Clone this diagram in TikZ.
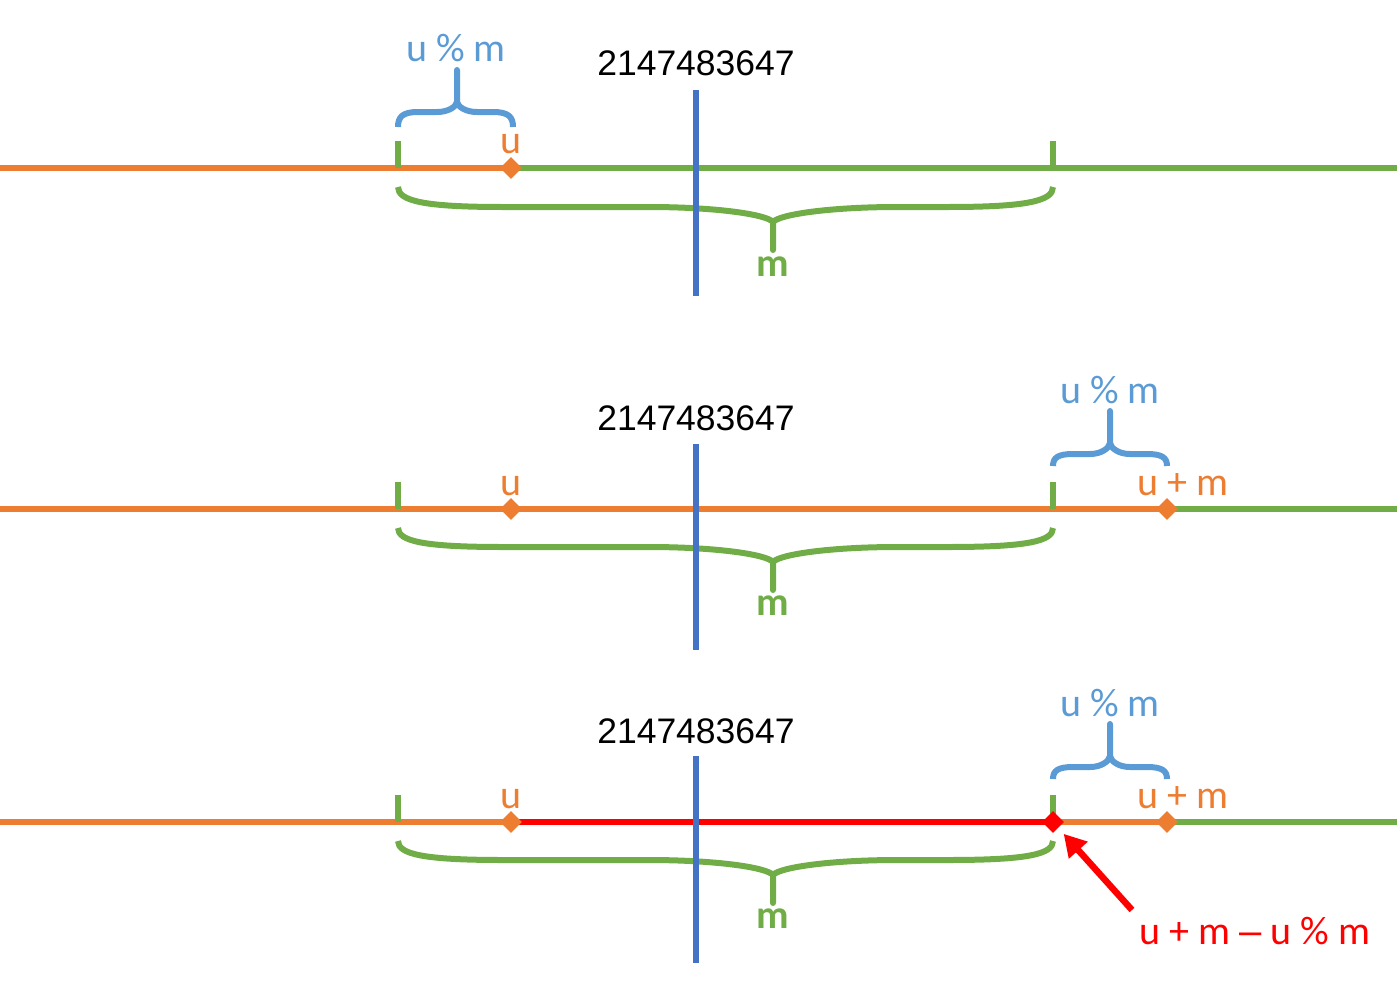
\documentclass[tikz,border=0pt]{standalone}
\usepackage{fontspec}
\setmainfont{Carlito}
\newfontfamily\arialfont{Liberation Sans}
\usetikzlibrary{shapes.geometric,arrows.meta}

\definecolor{lineorange}{HTML}{ED7D31}
\definecolor{linegreen}{HTML}{70AD47}
\definecolor{lineblue}{HTML}{4472C4}
\definecolor{bracelblue}{HTML}{5B9BD5}
\definecolor{linered}{HTML}{FF0000}

% brace: x left, x tip, x right, y ends, y straight part, y tip, y stem end,
% curve width at the ends, curve width at the tip
\newcommand{\brc}[9]{%
  \draw ({#1},{#4}) .. controls ({#1},{#4+0.7*(#5-#4)}) and ({#1+0.25*#8},{#5}) .. ({#1+#8},{#5})
    -- ({#2-#9},{#5}) .. controls ({#2-0.45*#9},{#5}) and ({#2-0.05*#9},{#5+0.5*(#6-#5)}) .. ({#2},{#6})
    -- ({#2},{#7}) -- ({#2},{#6})
    .. controls ({#2+0.05*#9},{#5+0.5*(#6-#5)}) and ({#2+0.45*#9},{#5}) .. ({#2+#9},{#5})
    -- ({#3-#8},{#5}) .. controls ({#3-0.25*#8},{#5}) and ({#3},{#4+0.7*(#5-#4)}) .. ({#3},{#4});}

\tikzset{
  numline/.style={line width=6.5pt},
  tickline/.style={line width=6.5pt, linegreen},
  bracepath/.style={line width=6pt, line join=round},
  ptmark/.style={diamond, fill=#1, minimum size=22pt, inner sep=0pt},
  lbl/.style={font=\fontsize{40}{48}\selectfont, anchor=base, inner sep=0pt},
  numlbl/.style={font=\arialfont\fontsize{35.5}{42}\selectfont, anchor=base, inner sep=0pt},
  limit/.style={line width=6.5pt, lineblue}
}

\begin{document}
\begin{tikzpicture}[x=1pt, y=-1pt]

    % Fix the picture size
    \useasboundingbox (0,0) rectangle (1397,990);

    % ---------- first number line ----------
    \coordinate (a0) at (0,168);
    \coordinate (au) at (511,168);
    \coordinate (a1) at (1397,168);
    \draw[numline, lineorange] (a0) -- (au);
    \draw[numline, linegreen] (au) -- (a1);

    % Ticks at both ends of the interval
    \draw[tickline] (398,141) -- (398,168);
    \draw[tickline] (1053,141) -- (1053,168);

    % Braces
    \begin{scope}[bracepath, bracelblue]
      \brc{398}{457}{513}{127}{112}{102}{70}{20}{20}
    \end{scope}
    \begin{scope}[bracepath, linegreen]
      \brc{398}{773}{1053}{187}{207}{222}{250}{105}{125}
    \end{scope}

    % Point u
    \node[ptmark=lineorange] (ua) at (au) {};

    % Limit line
    \draw[limit] (696,90) -- (696,296);

    % Labels
    \node[numlbl] (maxa) at (696,76) {2147483647};
    \node[lbl, bracelblue] (moda) at (456,62) {u \% m};
    \node[lbl, lineorange] (lbua) at (511,153) {u};
    \node[lbl, linegreen, font=\fontsize{40}{48}\selectfont\bfseries] (ma) at (773,276) {m};

    % ---------- second number line ----------
    \coordinate (b0) at (0,509);
    \coordinate (bu) at (511,509);
    \coordinate (bum) at (1167,509);
    \coordinate (b1) at (1397,509);
    \draw[numline, lineorange] (b0) -- (bum);
    \draw[numline, linegreen] (bum) -- (b1);

    % Ticks at both ends of the interval
    \draw[tickline] (398,482) -- (398,509);
    \draw[tickline] (1053,482) -- (1053,509);

    % Braces
    \begin{scope}[bracepath, bracelblue]
      \brc{1053}{1110}{1167}{466}{454}{443}{411}{20}{20}
    \end{scope}
    \begin{scope}[bracepath, linegreen]
      \brc{398}{773}{1053}{528}{547}{562}{590}{105}{125}
    \end{scope}

    % Points u and u + m
    \node[ptmark=lineorange] (ub) at (bu) {};
    \node[ptmark=lineorange] (umb) at (bum) {};

    % Limit line
    \draw[limit] (696,444) -- (696,650);

    % Labels
    \node[numlbl] (maxb) at (696,430) {2147483647};
    \node[lbl, bracelblue] (modb) at (1110,403) {u \% m};
    \node[lbl, lineorange] (lbub) at (511,495) {u};
    \node[lbl, lineorange] (lbumb) at (1183,495) {u + m};
    \node[lbl, linegreen, font=\fontsize{40}{48}\selectfont\bfseries] (mb) at (773,615) {m};

    % ---------- third number line ----------
    \coordinate (c0) at (0,822);
    \coordinate (cu) at (511,822);
    \coordinate (cr) at (1053,822);
    \coordinate (cum) at (1167,822);
    \coordinate (c1) at (1397,822);
    \draw[numline, lineorange] (c0) -- (cu);
    \draw[numline, linered] (cu) -- (cr);
    \draw[numline, lineorange] (cr) -- (cum);
    \draw[numline, linegreen] (cum) -- (c1);

    % Ticks at both ends of the interval
    \draw[tickline] (398,795) -- (398,822);
    \draw[tickline] (1053,795) -- (1053,818);

    % Braces
    \begin{scope}[bracepath, bracelblue]
      \brc{1053}{1110}{1167}{779}{767}{756}{724}{20}{20}
    \end{scope}
    \begin{scope}[bracepath, linegreen]
      \brc{398}{773}{1053}{841}{860}{875}{903}{105}{125}
    \end{scope}

    % Points u, u + m - u % m and u + m
    \node[ptmark=lineorange] (uc) at (cu) {};
    \node[ptmark=linered] (rc) at (cr) {};
    \node[ptmark=lineorange] (umc) at (cum) {};

    % Limit line
    \draw[limit] (696,756) -- (696,963);

    % Labels
    \node[numlbl] (maxc) at (696,743) {2147483647};
    \node[lbl, bracelblue] (modc) at (1110,716) {u \% m};
    \node[lbl, lineorange] (lbuc) at (511,808) {u};
    \node[lbl, lineorange] (lbumc) at (1183,808) {u + m};
    \node[lbl, linegreen, font=\fontsize{40}{48}\selectfont\bfseries] (mc) at (773,928) {m};
    \node[lbl, linered] (res) at (1255,944) {u + m {\arialfont –} u \% m};

    % Arrow pointing at the result
    \coordinate (tail) at (1132,910);
    \draw[line width=6.5pt, linered, -{Triangle[length=22pt,width=24pt]}, shorten >=8pt] (tail) -- (rc);

\end{tikzpicture}
\end{document}
